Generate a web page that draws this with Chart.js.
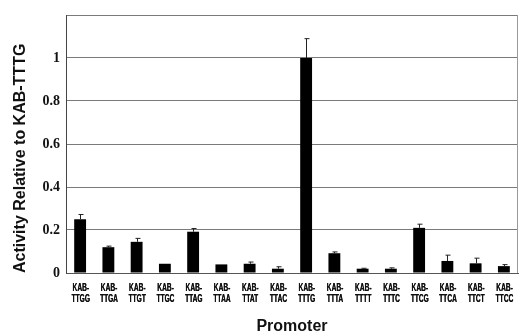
<!DOCTYPE html>
<html>
<head>
<meta charset="utf-8">
<script src="https://cdn.jsdelivr.net/npm/chart.js@4"></script>
<style>
  html, body { margin: 0; padding: 0; background: #fff; }
  #wrap { width: 520px; height: 334px; }
</style>
</head>
<body>
<div id="wrap"><canvas id="promoterChart"></canvas></div>
<script>
// Promoter variants (tetranucleotide after KAB-)
const promoters = ['TTGG', 'TTGA', 'TTGT', 'TTGC', 'TTAG', 'TTAA', 'TTAT', 'TTAC',
                   'TTTG', 'TTTA', 'TTTT', 'TTTC', 'TTCG', 'TTCA', 'TTCT', 'TTCC'];
// Activity relative to KAB-TTTG
const activity = [0.25, 0.12, 0.145, 0.043, 0.192, 0.04, 0.043, 0.02,
                  1.0, 0.092, 0.02, 0.02, 0.21, 0.056, 0.045, 0.032];
// Upper error (SD)
const errors = [0.022, 0.005, 0.016, 0, 0.015, 0, 0.008, 0.009,
                0.09, 0.006, 0.002, 0.004, 0.017, 0.027, 0.024, 0.007];
const yTicks = [0, 0.2, 0.4, 0.6, 0.8, 1, 1.2];

const labels = promoters.map(p => ['KAB-', p]);

// Upper error whiskers, right frame line and condensed category labels
const errorBarPlugin = {
    id: 'errorBars',
    afterDatasetsDraw(chart) {
        const ctx = chart.ctx;
        const yScale = chart.scales.y;
        const xScale = chart.scales.x;
        const meta = chart.getDatasetMeta(0);
        ctx.save();
        ctx.strokeStyle = '#222';
        ctx.lineWidth = 1;
        meta.data.forEach((bar, i) => {
            if (!errors[i]) return;
            const top = yScale.getPixelForValue(activity[i] + errors[i]);
            const x = Math.round(bar.x) + 0.5;
            ctx.beginPath();
            ctx.moveTo(x, bar.y);
            ctx.lineTo(x, top);
            ctx.moveTo(x - 2, top);
            ctx.lineTo(x + 3, top);
            ctx.stroke();
        });
        const area = chart.chartArea;
        ctx.strokeStyle = '#999';
        ctx.beginPath();
        ctx.moveTo(Math.round(area.right) - 0.5, area.top);
        ctx.lineTo(Math.round(area.right) - 0.5, area.bottom);
        ctx.stroke();

        // category labels, squeezed like the narrow typeface of the original
        ctx.fillStyle = '#111';
        ctx.font = "bold 11px 'Liberation Sans', Arial, sans-serif";
        ctx.textAlign = 'center';
        ctx.textBaseline = 'middle';
        labels.forEach((lines, i) => {
            const x = xScale.getPixelForValue(i);
            lines.forEach((txt, j) => {
                ctx.save();
                ctx.translate(x + 0.5, xScale.top + 15 + j * 11);
                ctx.scale(0.6, 1);
                ctx.fillText(txt, 0, 0);
                ctx.fillText(txt, 0.4, 0);
                ctx.restore();
            });
        });
        ctx.restore();
    }
};

const ctx = document.getElementById('promoterChart').getContext('2d');
new Chart(ctx, {
    type: 'bar',
    data: {
        labels: labels,
        datasets: [{
            label: 'Activity',
            data: activity,
            backgroundColor: '#000',
            borderWidth: 0,
            categoryPercentage: 1,
            barPercentage: 0.42
        }]
    },
    options: {
        responsive: true,
        maintainAspectRatio: false,
        animation: false,
        layout: { padding: { top: 15, right: 2, left: 0, bottom: 0 } },
        plugins: {
            legend: { display: false },
            tooltip: { enabled: false }
        },
        scales: {
            x: {
                grid: { display: false },
                border: { color: '#555' },
                ticks: { display: false },
                title: {
                    display: true,
                    text: 'Promoter',
                    color: '#111',
                    padding: { top: 0, bottom: -1 },
                    font: { family: "'Liberation Sans', Arial, sans-serif", size: 16, weight: 'bold', lineHeight: 1 }
                },
                afterFit: s => { s.height = 61; }
            },
            y: {
                min: 0,
                max: 1.2,
                afterBuildTicks: s => { s.ticks = yTicks.map(v => ({ value: v })); },
                grid: { color: '#7a7a7a', lineWidth: 1, drawTicks: false },
                border: { color: '#444' },
                ticks: {
                    color: '#111',
                    padding: 6,
                    font: { family: "'Liberation Serif', 'Times New Roman', serif", size: 14, weight: 'bold' },
                    callback: v => v >= 1.2 ? '' : String(Math.round(v * 10) / 10)
                },
                title: {
                    display: true,
                    text: 'Activity Relative to KAB-TTTG',
                    align: 'start',
                    color: '#111',
                    padding: { top: 11, bottom: 0 },
                    font: { family: "'Liberation Sans', Arial, sans-serif", size: 16, weight: 'bold' }
                },
                afterFit: s => { s.width = 66; }
            }
        }
    },
    plugins: [errorBarPlugin]
});
</script>
</body>
</html>
